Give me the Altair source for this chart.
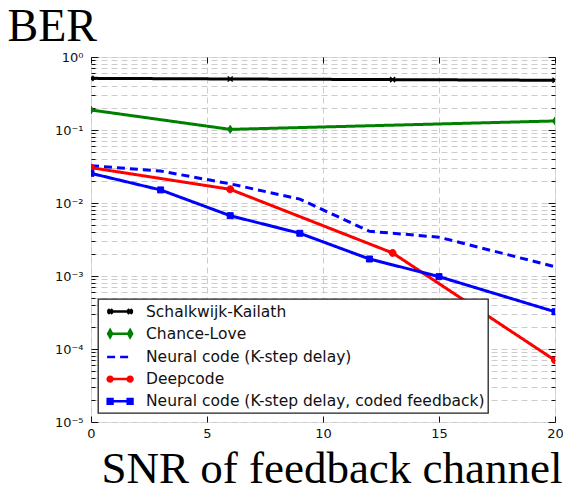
import json
import re
import altair as alt
import pandas as pd

# ---------------- data ----------------
series_names = [
    "Schalkwijk-Kailath",
    "Chance-Love",
    "Neural code (K-step delay)",
    "Deepcode",
    "Neural code (K-step delay, coded feedback)",
]
series_colors = ["#000000", "#008000", "#0000ff", "#ff0000", "#0000ff"]
series_dash = [[1, 0], [1, 0], [8, 5], [1, 0], [1, 0]]

sk_x = [0, 6, 13, 20]
sk_y = [0.51, 0.50, 0.49, 0.48]
cl_x = [0, 6, 20]
cl_y = [0.188, 0.102, 0.133]
nk_x = [0, 3, 6, 9, 12, 15, 20]
nk_y = [0.0324, 0.0274, 0.0183, 0.0113, 0.0041, 0.0034, 0.00134]
dc_x = [0, 6, 13, 20]
dc_y = [0.0305, 0.0154, 0.00207, 0.00007]
nc_x = [0, 3, 6, 9, 12, 15, 20]
nc_y = [0.0255, 0.0151, 0.0067, 0.00385, 0.00171, 0.00098, 0.000324]

x_ticks = [0, 5, 10, 15, 20]
y_major = [1, 0.1, 0.01, 0.001, 0.0001, 0.00001]
y_tick_labels = ["10⁰", "10⁻¹", "10⁻²", "10⁻³", "10⁻⁴", "10⁻⁵"]
y_minor = [m * 10.0 ** k for k in range(-5, 0) for m in range(2, 10)]

xy = [(sk_x, sk_y), (cl_x, cl_y), (nk_x, nk_y), (dc_x, dc_y), (nc_x, nc_y)]
rows = []
for name, (xs_, ys_) in zip(series_names, xy):
    for a, b in zip(xs_, ys_):
        rows.append({"series": name, "x": a, "y": b})
df = pd.DataFrame(rows)

# ---------------- styles ----------------
W, H = 464, 365
FONT = "DejaVu Sans"
SERIF = "Liberation Serif"
GRID = "#cccccc"

xs = alt.Scale(domain=[0, 20], nice=False, zero=False)
ys = alt.Scale(type="log", domain=[0.00001, 1], nice=False)
fill_scale = alt.Scale(domain=series_names, range=series_colors)
stroke_scale = alt.Scale(domain=series_names, range=series_colors)
dash_scale = alt.Scale(domain=series_names, range=series_dash)

# plot marker shapes (unit paths)
marker_shapes = {
    "Schalkwijk-Kailath": ("M-1,-1L1,1M-1,1L1,-1", 25, 1.5),
    "Chance-Love": ("M0,-1L0.65,0L0,1L-0.65,0Z", 64, 1),
    "Deepcode": ("M-1,0A1,1 0 1,0 1,0A1,1 0 1,0 -1,0Z", 49, 1),
    "Neural code (K-step delay, coded feedback)": ("M-1,-1L1,-1L1,1L-1,1Z", 36, 1),
}


# legend symbol paths: a line with a marker at each end (shifted right by D units)
def sym(parts):
    D = 1.2
    s = " ".join(parts)

    def shift(m):
        return f"{float(m.group(1)) + D:.3f},{m.group(2)}"
    return re.sub(r"(?<![A\d.])(-?\d*\.?\d+),(-?\d*\.?\d+)", shift, s)


LINE = "M-1.625,0 L1.625,0"
legend_paths = [
    sym([LINE, "M-1.5,-0.3 L-0.95,0.3 M-1.5,0.3 L-0.95,-0.3 M0.95,-0.3 L1.5,0.3 M0.95,0.3 L1.5,-0.3"]),
    sym([LINE, "M-1.25,-0.45 L-1.0,0 L-1.25,0.45 L-1.5,0 Z M1.25,-0.45 L1.5,0 L1.25,0.45 L1.0,0 Z"]),
    sym([LINE]),
    sym([LINE]) + " M-0.35,0 A0.3,0.3 0 1,0 0.25,0 A0.3,0.3 0 1,0 -0.35,0 Z M2.15,0 A0.3,0.3 0 1,0 2.75,0 A0.3,0.3 0 1,0 2.15,0 Z",
    sym([LINE, "M-1.55,-0.3 L-0.95,-0.3 L-0.95,0.3 L-1.55,0.3 Z M0.95,-0.3 L1.55,-0.3 L1.55,0.3 L0.95,0.3 Z"]),
]


def ax(**kw):
    base = dict(labels=False, ticks=False, grid=False, domain=False, title=None,
                tickColor="#111111", tickWidth=1)
    base.update(kw)
    return alt.Axis(**base)


label_expr = json.dumps(y_tick_labels, ensure_ascii=False) + "[round(-log(datum.value)/LN10)]"

XA = ax(orient="bottom", values=x_ticks, labels=True, grid=True, gridDash=[6, 4],
        gridColor=GRID, tickSize=0, labelFont=FONT, labelFontSize=13, labelPadding=5,
        labelFlush=False, labelColor="#111111", title="SNR of feedback channel",
        titleFont=SERIF, titleFontSize=45, titleFontWeight="normal", titleColor="#000000",
        titleX=471, titleY=60, titleAlign="right", titleBaseline="alphabetic")
YA = ax(orient="left", values=y_major, labels=True, labelExpr=label_expr, grid=True,
        gridDash=[6, 4], gridColor=GRID, tickSize=0, labelFont=FONT, labelFontSize=13,
        labelPadding=8, labelFlush=False, labelColor="#111111", title="BER",
        titleFont=SERIF, titleFontSize=46, titleFontWeight="normal", titleColor="#000000",
        titleAngle=0, titleX=-84, titleY=-17, titleAlign="left", titleBaseline="alphabetic")
YB = ax(orient="left", values=y_minor, grid=True, gridDash=[6, 4], gridColor=GRID, tickSize=0)
XB = ax(orient="top", offset=-H, values=x_ticks, ticks=True, tickSize=6)
XC = ax(orient="bottom", offset=-H, values=x_ticks, ticks=True, tickSize=6)
YC = ax(orient="right", offset=-W, values=y_major, ticks=True, tickSize=7)
YD = ax(orient="right", offset=-W, values=y_minor, ticks=True, tickSize=4)
YE = ax(orient="left", offset=-W, values=y_major, ticks=True, tickSize=7)
YF = ax(orient="left", offset=-W, values=y_minor, ticks=True, tickSize=4)

leg = alt.Legend(
    title=None, orient="none", legendX=7, legendY=242, symbolSize=256,
    symbolStrokeWidth=2.5, symbolOpacity=1, symbolFillColor="black",
    symbolStrokeColor="black", labelFont=FONT, labelFontSize=15.5, labelLimit=600,
    labelColor="#111111", labelOffset=26, rowPadding=4.2, padding=3,
    labelExpr="datum.label + ' '",
    fillColor="white", strokeColor="#222222",
)

# invisible layer that only carries the legend (line + end markers symbols)
legend_layer = alt.Chart(df).mark_point(filled=True, opacity=0, size=256).encode(
    fill=alt.Fill("series:N", scale=fill_scale, legend=leg),
    stroke=alt.Stroke("series:N", scale=stroke_scale, legend=leg),
    shape=alt.Shape("series:N", scale=alt.Scale(domain=series_names, range=legend_paths), legend=leg),
    strokeDash=alt.StrokeDash("series:N", scale=dash_scale, legend=leg),
)


def axis_layer(xaxis, yaxis):
    return alt.Chart(df).mark_point(opacity=0).encode(
        x=alt.X("x:Q", scale=xs, axis=xaxis),
        y=alt.Y("y:Q", scale=ys, axis=yaxis),
    )


axis_layers = [
    axis_layer(XA, YA),
    axis_layer(XB, YB),
    axis_layer(XC, YC),
    axis_layer(None, YD),
    axis_layer(None, YE),
    axis_layer(None, YF),
]

lines = alt.Chart(df).mark_line(strokeWidth=3, clip=True).encode(
    x=alt.X("x:Q", scale=xs, axis=None),
    y=alt.Y("y:Q", scale=ys, axis=None),
    stroke=alt.Stroke("series:N", scale=stroke_scale, legend=leg),
    strokeDash=alt.StrokeDash("series:N", scale=dash_scale, legend=leg),
)

marker_layers = []
for name, (path, size, sw) in marker_shapes.items():
    marker_layers.append(
        alt.Chart(df).transform_filter(alt.datum.series == name)
        .mark_point(filled=True, clip=True, shape=path, size=size, strokeWidth=sw, opacity=1)
        .encode(
            x=alt.X("x:Q", scale=xs, axis=None),
            y=alt.Y("y:Q", scale=ys, axis=None),
            fill=alt.Fill("series:N", scale=fill_scale, legend=leg),
            stroke=alt.Stroke("series:N", scale=stroke_scale, legend=leg),
        )
    )

chart = alt.layer(legend_layer, *axis_layers, lines, *marker_layers).resolve_axis(
    x="independent", y="independent"
).properties(
    width=W, height=H,
    autosize=alt.AutoSizeParams(type="none"),
    padding={"left": 83, "top": 49, "right": 8, "bottom": 61},
).configure_view(stroke="#111111", strokeWidth=1.5).configure(background="white").configure_legend(
    strokeWidth=1.3, cornerRadius=0
)

chart.save("out.html", embed_options={"renderer": "svg", "actions": False})
